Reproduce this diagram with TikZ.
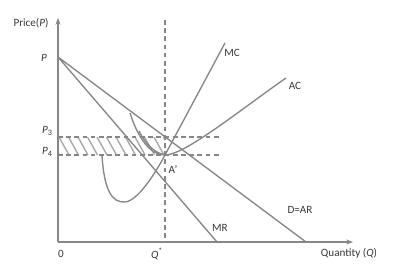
\documentclass[tikz,border=0pt]{standalone}
\usepackage{fontspec}
\setmainfont{Carlito}
\usetikzlibrary{arrows.meta}

\begin{document}
\begin{tikzpicture}[x=0.03cm,y=-0.03cm,line width=1.15pt,font=\fontsize{9.5}{11}\selectfont]

  % Define colors
  \definecolor{curvegray}{RGB}{135,135,135}
  \definecolor{hatchgray}{RGB}{170,170,170}
  \definecolor{labelgray}{RGB}{55,55,55}

  \useasboundingbox (0,0) rectangle (407,266);

  % key points of the diagram
  \coordinate (origin) at (58,242);
  \coordinate (yend) at (58,18);
  \coordinate (xend) at (353,242);
  \coordinate (ptop) at (58,57);
  \coordinate (dend) at (306,242);
  \coordinate (mrend) at (217,242);
  \coordinate (qtop) at (165,20);
  \coordinate (qbot) at (165,242);
  \coordinate (aprime) at (165,155);
  \coordinate (pthree) at (58,137);
  \coordinate (pfour) at (58,155);
  \coordinate (pthreeend) at (222,137);
  \coordinate (pfourend) at (222,155);

  % hatched area between P3 and P4
  \begin{scope}
    \clip (pthree) rectangle (aprime);
    \foreach \x in {40,49.5,...,170}
      \draw[hatchgray,line width=1.2pt] (\x,137) -- ++(10,18);
  \end{scope}

  % dashed guide lines
  \draw[curvegray,dash pattern=on 4pt off 3pt] (qtop) -- (qbot);
  \draw[curvegray,dash pattern=on 4pt off 3pt] (pthree) -- (pthreeend);
  \draw[curvegray,dash pattern=on 4pt off 3pt] (pfour) -- (pfourend);

  % demand and marginal revenue
  \draw[curvegray] (ptop) -- (dend);
  \draw[curvegray] (ptop) -- (mrend);

  % marginal cost
  \draw[curvegray] (102,155) .. controls (104,190) and (112,203) .. (125,202)
    .. controls (138,201) and (156,172) .. (aprime) -- (225,43);

  % average cost
  \draw[curvegray] (130,113) .. controls (138,138) and (150,155) .. (aprime)
    .. controls (185,155) and (240,110) .. (286,78);
  \draw[curvegray] (139,131) .. controls (146,145) and (155,153) .. (aprime);

  % axes
  \draw[curvegray,line width=1.3pt,-{Stealth[length=2mm]}] (origin) -- (yend);
  \draw[curvegray,line width=1.3pt,-{Stealth[length=2mm]}] (origin) -- (xend);

  % axis labels
  \node[labelgray] (pricelabel) at (31,23) {Price(\textit{P})};
  \node[labelgray] (qlabel) at (349,253) {Quantity (\textit{Q})};
  \node[labelgray] (zerolabel) at (61,254) {0};
  \node[labelgray] (qstarlabel) at (157,254) {\textit{Q}\textsuperscript{*}};

  % price labels
  \node[labelgray] (plabel) at (44,58) {\textit{P}};
  \node[labelgray] (pthreelabel) at (47,131) {\textit{P}\raisebox{-0.5ex}{\scriptsize 3}};
  \node[labelgray] (pfourlabel) at (47,152) {\textit{P}\raisebox{-0.5ex}{\scriptsize 4}};

  % curve labels
  \node[labelgray] (mclabel) at (232,53) {MC};
  \node[labelgray] (aclabel) at (295,86) {AC};
  \node[labelgray] (dlabel) at (300,210) {D=AR};
  \node[labelgray] (mrlabel) at (220,228) {MR};
  \node[labelgray] (alabel) at (173,170) {A’};

\end{tikzpicture}
\end{document}
